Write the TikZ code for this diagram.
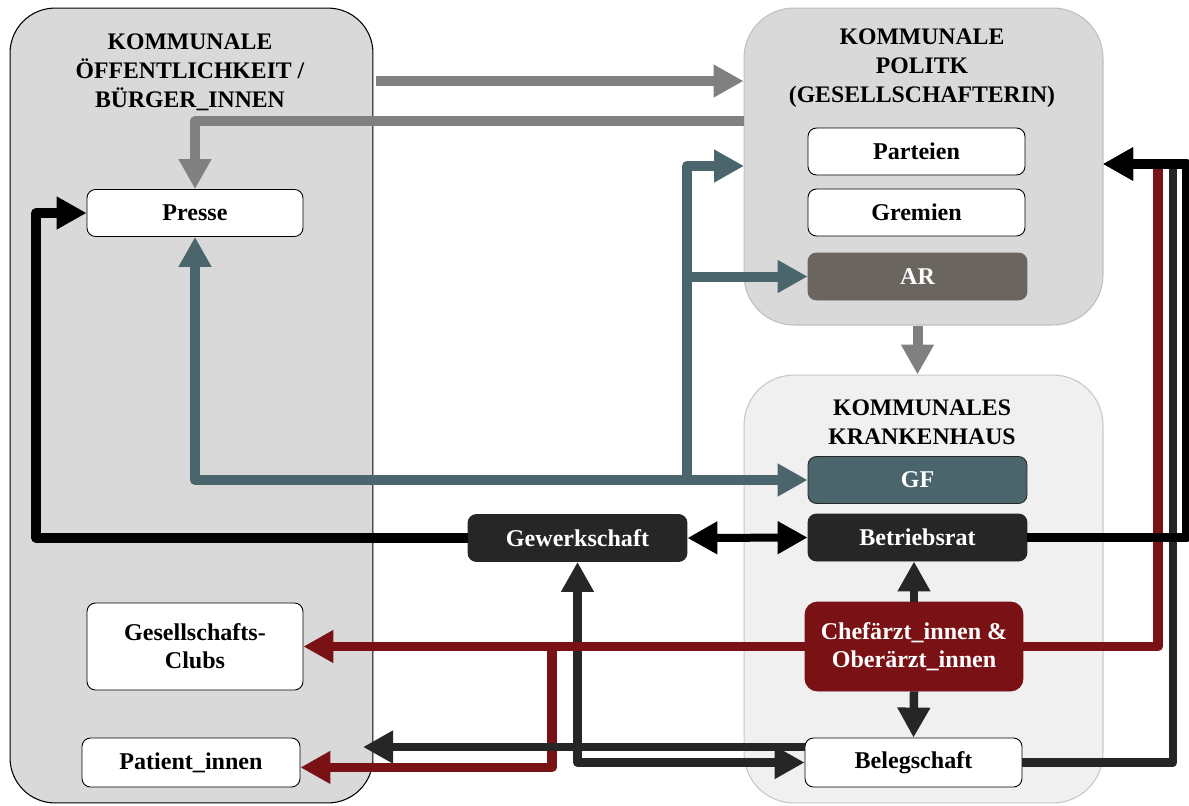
\documentclass[tikz,border=0pt]{standalone}
\usepackage{fontspec}
\setmainfont{Liberation Serif}
\usetikzlibrary{arrows.meta}
\definecolor{pn_gray}{RGB}{217,217,217}
\definecolor{kh_gray}{RGB}{240,240,240}
\definecolor{ar_gray}{RGB}{107,101,96}
\definecolor{gf_teal}{RGB}{74,101,107}
\definecolor{dk_gray}{RGB}{38,38,38}
\definecolor{dk_red}{RGB}{122,17,20}
\definecolor{ln_gray}{RGB}{128,128,128}
\tikzstyle{panel}=[rectangle,rounded corners=0.9cm,fill=pn_gray,draw=black,
  line width=0.6pt]
\tikzstyle{title}=[align=center,font=\bfseries\fontsize{13.5}{16.4}\selectfont]
\tikzstyle{wn}=[rectangle,rounded corners=0.17cm,fill=white,draw=black,
  line width=0.5pt,inner sep=2pt,minimum width=4.34cm,minimum height=0.94cm,
  align=center,font=\bfseries\fontsize{13.7}{16}\selectfont]
\tikzstyle{dn}=[wn,fill=dk_gray,draw=dk_gray,text=white]
\tikzstyle{tn}=[wn,fill=gf_teal,draw=dk_gray,text=white]
\tikzstyle{an}=[wn,fill=ar_gray,draw=ar_gray,text=white]
\tikzstyle{rn}=[wn,fill=dk_red,draw=dk_red,text=white,rounded corners=0.25cm]
\tikzstyle{ga}=[draw=ln_gray,line width=0.2cm,->]
\tikzstyle{ta}=[draw=gf_teal,line width=0.2cm,line join=round,->]
\tikzstyle{ba}=[draw=black,line width=0.19cm,line join=round,->]
\tikzstyle{da}=[draw=dk_gray,line width=0.17cm,line join=round,->]
\tikzstyle{ra}=[draw=dk_red,line width=0.19cm,line join=round,->]

\begin{document}
\begin{tikzpicture}[x=0.02cm,y=-0.02cm,>={Triangle[length=0.6cm,width=0.62cm]}]
  \useasboundingbox (0,0) rectangle (1189,805);
  % panels
  \node [style=panel,minimum width=7.26cm,minimum height=15.9cm] (oeff) at (191.5,405.5) {};
  \node [style=panel,draw=black!25,rounded corners=1cm,minimum width=7.18cm,minimum height=6.34cm] (pol) at (923.5,166.5) {};
  \node [style=panel,fill=kh_gray,draw=black!22,rounded corners=1cm,minimum width=7.18cm,minimum height=8.56cm] (kh) at (923.5,589) {};
  \node [style=title] (t1) at (190,72) {KOMMUNALE\\ÖFFENTLICHKEIT /\\BÜRGER\_INNEN};
  \node [style=title] (t2) at (922,68) {KOMMUNALE\\POLITK\\(GESELLSCHAFTERIN)};
  \node [style=title] (t3) at (922,422) {KOMMUNALES\\KRANKENHAUS};
  % boxes
  \node [style=wn,minimum width=4.32cm] (presse) at (195,213) {Presse};
  \node [style=wn] (parteien) at (916.5,151.5) {Parteien};
  \node [style=wn] (gremien) at (916.5,212.5) {Gremien};
  \node [style=an,minimum width=4.38cm] (ar) at (917.5,276.5) {AR};
  \node [style=tn,minimum width=4.38cm] (gf) at (917.5,480) {GF};
  \node [style=dn,minimum width=4.38cm] (br) at (917.5,537.5) {Betriebsrat};
  \node [style=dn,minimum width=4.38cm] (gew) at (577.5,538) {Gewerkschaft};
  \node [style=rn,minimum width=4.36cm,minimum height=1.78cm] (chef) at (914,646.5) {Chefärzt\_innen \&\\Oberärzt\_innen};
  \node [style=wn,minimum height=0.98cm] (beleg) at (913.5,762.5) {Belegschaft};
  \node [style=wn,minimum width=4.32cm,minimum height=1.74cm] (clubs) at (195,646.5) {Gesellschafts-\\Clubs};
  \node [style=wn,minimum width=4.36cm,minimum height=0.98cm] (pat) at (191,762.5) {Patient\_innen};
  % free ends and bends
  \coordinate (g1) at (376,81);
  \coordinate (g2) at (744,121);
  \coordinate (tj) at (687,480);
  \coordinate (tp) at (744,166);
  \coordinate (bl) at (36,0);
  \coordinate (pe) at (1103,164);
  \coordinate (r1) at (1158,0);
  \coordinate (r2) at (1173,0);
  \coordinate (r3) at (1187,0);
  \coordinate (rj) at (552,0);
  \coordinate (p1) at (363,747);
  % grey
  \draw [style=ga] (g1) to (g1 -| pol.west);
  \draw [style=ga,line join=round] (g2) -| (presse.north);
  \draw [style=ga] (ar.south |- pol.south) to (ar.south |- kh.north);
  % teal
  \draw [style=ta] (tj) to (gf.west);
  \draw [style=ta] (tj) -| (presse.south);
  \draw [style=ta] (tj) |- (tp);
  \draw [style=ta] (tj |- ar) to (ar.west);
  % red
  \draw [style=ra] (chef.east) -- (chef.east -| r1) -- (r1 |- pe) -- (pe);
  \draw [style=ra] (chef.west -| rj) |- ([yshift=-2.8pt]pat.east);
  % dark
  \draw [style=da] (beleg.east) -- (beleg.east -| r2) -- (r2 |- pe) -- (pe);
  \draw [style=da] (beleg.west |- p1) to (p1);
  \draw [style=da,<->] (gew.south) |- (beleg.west);
  \draw [style=da] (chef.north) to (chef.north |- br.south);
  \draw [style=da] (chef.south) to (beleg.north);
  \draw [style=ra] (chef.west) to (clubs.east);
  % black
  \draw [style=ba] (br.east) -- (br.east -| r3) -- (r3 |- pe) -- (pe);
  \draw [style=ba] (gew.west) -- (gew.west -| bl) |- (presse.west);
  \draw [style=ba,line width=0.16cm,<->] (gew.east) to (br.west);
\end{tikzpicture}
\end{document}
